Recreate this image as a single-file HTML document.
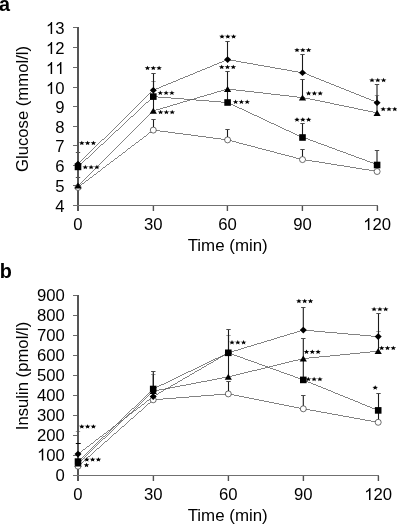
<!DOCTYPE html>
<html><head><meta charset="utf-8"><style>
html,body{margin:0;padding:0;background:#fff;width:397px;height:525px;overflow:hidden}
svg{display:block;will-change:transform}
.t{font-family:"Liberation Sans",sans-serif;font-size:16.7px;fill:#000}
.p{font-family:"Liberation Sans",sans-serif;font-size:19.8px;font-weight:bold;fill:#000}
</style></head><body>
<svg width="397" height="525" viewBox="0 0 397 525">
<rect width="397" height="525" fill="#fff"/>
<text x="-1" y="10.7" class="p">a</text>
<text x="-0.3" y="277.8" class="p">b</text>
<line x1="153.5" y1="130.1" x2="153.5" y2="119.3" stroke="#1a1a1a" stroke-width="1.1"/>
<line x1="151.3" y1="119.5" x2="155.7" y2="119.5" stroke="#4a4a4a" stroke-width="1"/>
<line x1="227.5" y1="139.9" x2="227.5" y2="129.7" stroke="#1a1a1a" stroke-width="1.1"/>
<line x1="225.3" y1="129.5" x2="229.7" y2="129.5" stroke="#4a4a4a" stroke-width="1"/>
<line x1="302.5" y1="159.6" x2="302.5" y2="149.5" stroke="#1a1a1a" stroke-width="1.1"/>
<line x1="300.3" y1="149.5" x2="304.7" y2="149.5" stroke="#4a4a4a" stroke-width="1"/>
<line x1="75.8" y1="177.5" x2="80.2" y2="177.5" stroke="#4a4a4a" stroke-width="1"/>
<line x1="153.5" y1="110.9" x2="153.5" y2="81.5" stroke="#1a1a1a" stroke-width="1.1"/>
<line x1="151.3" y1="81.5" x2="155.7" y2="81.5" stroke="#9a9a9a" stroke-width="1"/>
<line x1="227.5" y1="89.0" x2="227.5" y2="71.9" stroke="#1a1a1a" stroke-width="1.1"/>
<line x1="225.3" y1="71.5" x2="229.7" y2="71.5" stroke="#4a4a4a" stroke-width="1"/>
<line x1="302.5" y1="97.6" x2="302.5" y2="79.5" stroke="#1a1a1a" stroke-width="1.1"/>
<line x1="300.3" y1="79.5" x2="304.7" y2="79.5" stroke="#4a4a4a" stroke-width="1"/>
<line x1="377.0" y1="113.1" x2="377.0" y2="95.4" stroke="#1a1a1a" stroke-width="1.1"/>
<line x1="374.8" y1="95.5" x2="379.2" y2="95.5" stroke="#9a9a9a" stroke-width="1"/>
<line x1="227.5" y1="102.5" x2="227.5" y2="89.0" stroke="#1a1a1a" stroke-width="1.1"/>
<line x1="302.5" y1="137.5" x2="302.5" y2="123.0" stroke="#1a1a1a" stroke-width="1.1"/>
<line x1="300.3" y1="123.5" x2="304.7" y2="123.5" stroke="#4a4a4a" stroke-width="1"/>
<line x1="377.0" y1="165.0" x2="377.0" y2="150.3" stroke="#1a1a1a" stroke-width="1.1"/>
<line x1="374.8" y1="150.5" x2="379.2" y2="150.5" stroke="#4a4a4a" stroke-width="1"/>
<line x1="75.8" y1="152.5" x2="80.2" y2="152.5" stroke="#4a4a4a" stroke-width="1"/>
<line x1="153.5" y1="90.2" x2="153.5" y2="73.4" stroke="#1a1a1a" stroke-width="1.1"/>
<line x1="151.3" y1="73.5" x2="155.7" y2="73.5" stroke="#4a4a4a" stroke-width="1"/>
<line x1="227.5" y1="59.6" x2="227.5" y2="41.5" stroke="#1a1a1a" stroke-width="1.1"/>
<line x1="225.3" y1="41.5" x2="229.7" y2="41.5" stroke="#4a4a4a" stroke-width="1"/>
<line x1="302.5" y1="72.8" x2="302.5" y2="54.5" stroke="#1a1a1a" stroke-width="1.1"/>
<line x1="300.3" y1="54.5" x2="304.7" y2="54.5" stroke="#4a4a4a" stroke-width="1"/>
<line x1="377.0" y1="102.7" x2="377.0" y2="84.4" stroke="#1a1a1a" stroke-width="1.1"/>
<line x1="374.8" y1="84.5" x2="379.2" y2="84.5" stroke="#4a4a4a" stroke-width="1"/>
<rect x="77" y="27" width="2" height="184" fill="#555"/>
<rect x="73" y="27" width="4" height="1" fill="#6a6a6a"/>
<rect x="73" y="47" width="4" height="1" fill="#6a6a6a"/>
<rect x="73" y="67" width="4" height="1" fill="#6a6a6a"/>
<rect x="73" y="87" width="4" height="1" fill="#6a6a6a"/>
<rect x="73" y="106" width="4" height="1" fill="#6a6a6a"/>
<rect x="73" y="126" width="4" height="1" fill="#6a6a6a"/>
<rect x="73" y="145" width="4" height="1" fill="#6a6a6a"/>
<rect x="73" y="165" width="4" height="1" fill="#6a6a6a"/>
<rect x="73" y="185" width="4" height="1" fill="#6a6a6a"/>
<rect x="73" y="205" width="4" height="1" fill="#6a6a6a"/>
<rect x="73" y="205" width="305" height="1" fill="#707070"/>
<rect x="152.7" y="206" width="1.4" height="5" fill="#505050"/>
<rect x="226.7" y="206" width="1.4" height="5" fill="#505050"/>
<rect x="301.7" y="206" width="1.4" height="5" fill="#505050"/>
<rect x="376.7" y="206" width="1.4" height="5" fill="#505050"/>
<path transform="translate(45.92 34.05) scale(0.008154 -0.008154)" d="M763 0H583V1147Q518 1085 412 1023Q306 961 223 930V1104Q374 1175 487 1276Q600 1377 647 1472H763Z"/><text x="55.21" y="34.05" class="t">3</text>
<path transform="translate(45.92 54.05) scale(0.008154 -0.008154)" d="M763 0H583V1147Q518 1085 412 1023Q306 961 223 930V1104Q374 1175 487 1276Q600 1377 647 1472H763Z"/><text x="55.21" y="54.05" class="t">2</text>
<path transform="translate(45.92 74.05) scale(0.008154 -0.008154)" d="M763 0H583V1147Q518 1085 412 1023Q306 961 223 930V1104Q374 1175 487 1276Q600 1377 647 1472H763Z"/><path transform="translate(55.21 74.05) scale(0.008154 -0.008154)" d="M763 0H583V1147Q518 1085 412 1023Q306 961 223 930V1104Q374 1175 487 1276Q600 1377 647 1472H763Z"/>
<path transform="translate(45.92 94.05) scale(0.008154 -0.008154)" d="M763 0H583V1147Q518 1085 412 1023Q306 961 223 930V1104Q374 1175 487 1276Q600 1377 647 1472H763Z"/><text x="55.21" y="94.05" class="t">0</text>
<text x="55.21" y="113.05" class="t">9</text>
<text x="55.21" y="133.05" class="t">8</text>
<text x="55.21" y="152.05" class="t">7</text>
<text x="55.21" y="172.05" class="t">6</text>
<text x="55.21" y="192.05" class="t">5</text>
<text x="55.21" y="212.05" class="t">4</text>
<text x="73.36" y="230.10" class="t">0</text>
<text x="144.01" y="230.10" class="t">3</text><text x="153.30" y="230.10" class="t">0</text>
<text x="218.31" y="230.10" class="t">6</text><text x="227.60" y="230.10" class="t">0</text>
<text x="293.21" y="230.10" class="t">9</text><text x="302.50" y="230.10" class="t">0</text>
<path transform="translate(363.17 230.10) scale(0.008154 -0.008154)" d="M763 0H583V1147Q518 1085 412 1023Q306 961 223 930V1104Q374 1175 487 1276Q600 1377 647 1472H763Z"/><text x="372.46" y="230.10" class="t">2</text><text x="381.74" y="230.10" class="t">0</text>
<text x="227.7" y="251.3" text-anchor="middle" class="t" style="font-size:16.9px">Time (min)</text>
<text transform="translate(27.5 109) rotate(-90)" text-anchor="middle" class="t">Glucose (mmol/l)</text>
<polyline points="78,187.4 153.3,130.1 227.6,139.9 302.5,159.6 377.1,171.5" fill="none" stroke="#5a5a5a" stroke-width="0.75" shape-rendering="crispEdges"/>
<polyline points="78,185.7 153.3,110.9 227.6,89.0 302.5,97.6 377.1,113.1" fill="none" stroke="#5a5a5a" stroke-width="0.75" shape-rendering="crispEdges"/>
<polyline points="78,166.9 153.3,96.6 227.6,102.5 302.5,137.5 377.1,165.0" fill="none" stroke="#5a5a5a" stroke-width="0.75" shape-rendering="crispEdges"/>
<polyline points="78,164.0 153.3,90.2 227.6,59.6 302.5,72.8 377.1,102.7" fill="none" stroke="#5a5a5a" stroke-width="0.75" shape-rendering="crispEdges"/>
<circle cx="78" cy="187.4" r="3.0" fill="#fff" stroke="#222" stroke-width="0.65"/>
<circle cx="153.3" cy="130.1" r="3.0" fill="#fff" stroke="#222" stroke-width="0.65"/>
<circle cx="227.6" cy="139.9" r="3.0" fill="#fff" stroke="#222" stroke-width="0.65"/>
<circle cx="302.5" cy="159.6" r="3.0" fill="#fff" stroke="#222" stroke-width="0.65"/>
<circle cx="377.1" cy="171.5" r="3.0" fill="#fff" stroke="#222" stroke-width="0.65"/>
<polygon points="78,182.6 81.6,188.6 74.4,188.6" fill="#000"/>
<polygon points="153.3,107.80000000000001 156.9,113.80000000000001 149.70000000000002,113.80000000000001" fill="#000"/>
<polygon points="227.6,85.9 231.2,91.9 224.0,91.9" fill="#000"/>
<polygon points="302.5,94.5 306.1,100.5 298.9,100.5" fill="#000"/>
<polygon points="377.1,110.0 380.70000000000005,116.0 373.5,116.0" fill="#000"/>
<rect x="74.7" y="163.6" width="6.6" height="6.6" fill="#000"/>
<rect x="150.0" y="93.3" width="6.6" height="6.6" fill="#000"/>
<rect x="224.29999999999998" y="99.2" width="6.6" height="6.6" fill="#000"/>
<rect x="299.2" y="134.2" width="6.6" height="6.6" fill="#000"/>
<rect x="373.8" y="161.7" width="6.6" height="6.6" fill="#000"/>
<polygon points="78,160.7 81.5,164.0 78,167.3 74.5,164.0" fill="#000"/>
<polygon points="153.3,86.9 156.8,90.2 153.3,93.5 149.8,90.2" fill="#000"/>
<polygon points="227.6,56.300000000000004 231.1,59.6 227.6,62.9 224.1,59.6" fill="#000"/>
<polygon points="302.5,69.5 306.0,72.8 302.5,76.1 299.0,72.8" fill="#000"/>
<polygon points="377.1,99.4 380.6,102.7 377.1,106.0 373.6,102.7" fill="#000"/>

<g fill="#000">
<polygon points="81.80,140.65 82.55,142.24 84.61,142.34 83.02,143.43 83.53,145.08 81.80,144.16 80.07,145.08 80.58,143.43 78.99,142.34 81.05,142.24"/>
<polygon points="87.60,140.65 88.35,142.24 90.41,142.34 88.82,143.43 89.33,145.08 87.60,144.16 85.87,145.08 86.38,143.43 84.79,142.34 86.85,142.24"/>
<polygon points="93.40,140.65 94.15,142.24 96.21,142.34 94.62,143.43 95.13,145.08 93.40,144.16 91.67,145.08 92.18,143.43 90.59,142.34 92.65,142.24"/>
<polygon points="85.30,164.85 86.05,166.44 88.11,166.54 86.52,167.63 87.03,169.28 85.30,168.36 83.57,169.28 84.08,167.63 82.49,166.54 84.55,166.44"/>
<polygon points="91.10,164.85 91.85,166.44 93.91,166.54 92.32,167.63 92.83,169.28 91.10,168.36 89.37,169.28 89.88,167.63 88.29,166.54 90.35,166.44"/>
<polygon points="96.90,164.85 97.65,166.44 99.71,166.54 98.12,167.63 98.63,169.28 96.90,168.36 95.17,169.28 95.68,167.63 94.09,166.54 96.15,166.44"/>
<polygon points="147.50,65.65 148.25,67.24 150.31,67.34 148.72,68.43 149.23,70.08 147.50,69.16 145.77,70.08 146.28,68.43 144.69,67.34 146.75,67.24"/>
<polygon points="153.30,65.65 154.05,67.24 156.11,67.34 154.52,68.43 155.03,70.08 153.30,69.16 151.57,70.08 152.08,68.43 150.49,67.34 152.55,67.24"/>
<polygon points="159.10,65.65 159.85,67.24 161.91,67.34 160.32,68.43 160.83,70.08 159.10,69.16 157.37,70.08 157.88,68.43 156.29,67.34 158.35,67.24"/>
<polygon points="160.30,90.55 161.05,92.14 163.11,92.24 161.52,93.33 162.03,94.98 160.30,94.06 158.57,94.98 159.08,93.33 157.49,92.24 159.55,92.14"/>
<polygon points="166.10,90.55 166.85,92.14 168.91,92.24 167.32,93.33 167.83,94.98 166.10,94.06 164.37,94.98 164.88,93.33 163.29,92.24 165.35,92.14"/>
<polygon points="171.90,90.55 172.65,92.14 174.71,92.24 173.12,93.33 173.63,94.98 171.90,94.06 170.17,94.98 170.68,93.33 169.09,92.24 171.15,92.14"/>
<polygon points="160.60,109.85 161.35,111.44 163.41,111.54 161.82,112.63 162.33,114.28 160.60,113.36 158.87,114.28 159.38,112.63 157.79,111.54 159.85,111.44"/>
<polygon points="166.40,109.85 167.15,111.44 169.21,111.54 167.62,112.63 168.13,114.28 166.40,113.36 164.67,114.28 165.18,112.63 163.59,111.54 165.65,111.44"/>
<polygon points="172.20,109.85 172.95,111.44 175.01,111.54 173.42,112.63 173.93,114.28 172.20,113.36 170.47,114.28 170.98,112.63 169.39,111.54 171.45,111.44"/>
<polygon points="222.00,34.15 222.75,35.74 224.81,35.84 223.22,36.93 223.73,38.58 222.00,37.66 220.27,38.58 220.78,36.93 219.19,35.84 221.25,35.74"/>
<polygon points="227.80,34.15 228.55,35.74 230.61,35.84 229.02,36.93 229.53,38.58 227.80,37.66 226.07,38.58 226.58,36.93 224.99,35.84 227.05,35.74"/>
<polygon points="233.60,34.15 234.35,35.74 236.41,35.84 234.82,36.93 235.33,38.58 233.60,37.66 231.87,38.58 232.38,36.93 230.79,35.84 232.85,35.74"/>
<polygon points="221.70,64.65 222.45,66.24 224.51,66.34 222.92,67.43 223.43,69.08 221.70,68.16 219.97,69.08 220.48,67.43 218.89,66.34 220.95,66.24"/>
<polygon points="227.50,64.65 228.25,66.24 230.31,66.34 228.72,67.43 229.23,69.08 227.50,68.16 225.77,69.08 226.28,67.43 224.69,66.34 226.75,66.24"/>
<polygon points="233.30,64.65 234.05,66.24 236.11,66.34 234.52,67.43 235.03,69.08 233.30,68.16 231.57,69.08 232.08,67.43 230.49,66.34 232.55,66.24"/>
<polygon points="235.60,99.55 236.35,101.14 238.41,101.24 236.82,102.33 237.33,103.98 235.60,103.06 233.87,103.98 234.38,102.33 232.79,101.24 234.85,101.14"/>
<polygon points="241.40,99.55 242.15,101.14 244.21,101.24 242.62,102.33 243.13,103.98 241.40,103.06 239.67,103.98 240.18,102.33 238.59,101.24 240.65,101.14"/>
<polygon points="247.20,99.55 247.95,101.14 250.01,101.24 248.42,102.33 248.93,103.98 247.20,103.06 245.47,103.98 245.98,102.33 244.39,101.24 246.45,101.14"/>
<polygon points="297.00,47.65 297.75,49.24 299.81,49.34 298.22,50.43 298.73,52.08 297.00,51.16 295.27,52.08 295.78,50.43 294.19,49.34 296.25,49.24"/>
<polygon points="302.80,47.65 303.55,49.24 305.61,49.34 304.02,50.43 304.53,52.08 302.80,51.16 301.07,52.08 301.58,50.43 299.99,49.34 302.05,49.24"/>
<polygon points="308.60,47.65 309.35,49.24 311.41,49.34 309.82,50.43 310.33,52.08 308.60,51.16 306.87,52.08 307.38,50.43 305.79,49.34 307.85,49.24"/>
<polygon points="308.60,90.95 309.35,92.54 311.41,92.64 309.82,93.73 310.33,95.38 308.60,94.46 306.87,95.38 307.38,93.73 305.79,92.64 307.85,92.54"/>
<polygon points="314.40,90.95 315.15,92.54 317.21,92.64 315.62,93.73 316.13,95.38 314.40,94.46 312.67,95.38 313.18,93.73 311.59,92.64 313.65,92.54"/>
<polygon points="320.20,90.95 320.95,92.54 323.01,92.64 321.42,93.73 321.93,95.38 320.20,94.46 318.47,95.38 318.98,93.73 317.39,92.64 319.45,92.54"/>
<polygon points="297.00,117.25 297.75,118.84 299.81,118.94 298.22,120.03 298.73,121.68 297.00,120.76 295.27,121.68 295.78,120.03 294.19,118.94 296.25,118.84"/>
<polygon points="302.80,117.25 303.55,118.84 305.61,118.94 304.02,120.03 304.53,121.68 302.80,120.76 301.07,121.68 301.58,120.03 299.99,118.94 302.05,118.84"/>
<polygon points="308.60,117.25 309.35,118.84 311.41,118.94 309.82,120.03 310.33,121.68 308.60,120.76 306.87,121.68 307.38,120.03 305.79,118.94 307.85,118.84"/>
<polygon points="372.00,77.85 372.75,79.44 374.81,79.54 373.22,80.63 373.73,82.28 372.00,81.36 370.27,82.28 370.78,80.63 369.19,79.54 371.25,79.44"/>
<polygon points="377.80,77.85 378.55,79.44 380.61,79.54 379.02,80.63 379.53,82.28 377.80,81.36 376.07,82.28 376.58,80.63 374.99,79.54 377.05,79.44"/>
<polygon points="383.60,77.85 384.35,79.44 386.41,79.54 384.82,80.63 385.33,82.28 383.60,81.36 381.87,82.28 382.38,80.63 380.79,79.54 382.85,79.44"/>
<polygon points="383.20,106.75 383.95,108.34 386.01,108.44 384.42,109.53 384.93,111.18 383.20,110.26 381.47,111.18 381.98,109.53 380.39,108.44 382.45,108.34"/>
<polygon points="389.00,106.75 389.75,108.34 391.81,108.44 390.22,109.53 390.73,111.18 389.00,110.26 387.27,111.18 387.78,109.53 386.19,108.44 388.25,108.34"/>
<polygon points="394.80,106.75 395.55,108.34 397.61,108.44 396.02,109.53 396.53,111.18 394.80,110.26 393.07,111.18 393.58,109.53 391.99,108.44 394.05,108.34"/>
</g>
<line x1="228.5" y1="393.9" x2="228.5" y2="381.7" stroke="#1a1a1a" stroke-width="1.1"/>
<line x1="226.3" y1="381.5" x2="230.7" y2="381.5" stroke="#4a4a4a" stroke-width="1"/>
<line x1="303.3" y1="408.8" x2="303.3" y2="395.5" stroke="#1a1a1a" stroke-width="1.1"/>
<line x1="301.1" y1="395.5" x2="305.5" y2="395.5" stroke="#4a4a4a" stroke-width="1"/>
<line x1="378.5" y1="422.3" x2="378.5" y2="409.0" stroke="#1a1a1a" stroke-width="1.1"/>
<line x1="75.8" y1="431.5" x2="80.2" y2="431.5" stroke="#9a9a9a" stroke-width="1"/>
<line x1="228.5" y1="376.9" x2="228.5" y2="352.0" stroke="#1a1a1a" stroke-width="1.1"/>
<line x1="303.3" y1="358.6" x2="303.3" y2="338.2" stroke="#1a1a1a" stroke-width="1.1"/>
<line x1="301.1" y1="338.5" x2="305.5" y2="338.5" stroke="#4a4a4a" stroke-width="1"/>
<line x1="378.5" y1="351.2" x2="378.5" y2="331.2" stroke="#1a1a1a" stroke-width="1.1"/>
<line x1="376.3" y1="331.5" x2="380.7" y2="331.5" stroke="#9a9a9a" stroke-width="1"/>
<line x1="153.3" y1="389.0" x2="153.3" y2="374.1" stroke="#1a1a1a" stroke-width="1.1"/>
<line x1="151.10000000000002" y1="374.5" x2="155.5" y2="374.5" stroke="#9a9a9a" stroke-width="1"/>
<line x1="228.5" y1="352.8" x2="228.5" y2="335.0" stroke="#1a1a1a" stroke-width="1.1"/>
<line x1="226.3" y1="335.5" x2="230.7" y2="335.5" stroke="#9a9a9a" stroke-width="1"/>
<line x1="303.3" y1="379.9" x2="303.3" y2="357.0" stroke="#1a1a1a" stroke-width="1.1"/>
<line x1="378.5" y1="410.4" x2="378.5" y2="393.2" stroke="#1a1a1a" stroke-width="1.1"/>
<line x1="376.3" y1="393.5" x2="380.7" y2="393.5" stroke="#4a4a4a" stroke-width="1"/>
<line x1="153.3" y1="396.6" x2="153.3" y2="371.5" stroke="#1a1a1a" stroke-width="1.1"/>
<line x1="151.10000000000002" y1="371.5" x2="155.5" y2="371.5" stroke="#4a4a4a" stroke-width="1"/>
<line x1="228.5" y1="352.8" x2="228.5" y2="329.8" stroke="#1a1a1a" stroke-width="1.1"/>
<line x1="226.3" y1="329.5" x2="230.7" y2="329.5" stroke="#4a4a4a" stroke-width="1"/>
<line x1="303.3" y1="330.1" x2="303.3" y2="307.2" stroke="#1a1a1a" stroke-width="1.1"/>
<line x1="301.1" y1="307.5" x2="305.5" y2="307.5" stroke="#4a4a4a" stroke-width="1"/>
<line x1="378.5" y1="336.6" x2="378.5" y2="313.4" stroke="#1a1a1a" stroke-width="1.1"/>
<line x1="376.3" y1="313.5" x2="380.7" y2="313.5" stroke="#4a4a4a" stroke-width="1"/>
<rect x="77" y="295" width="2" height="186" fill="#555"/>
<rect x="73" y="295" width="4" height="1" fill="#6a6a6a"/>
<rect x="73" y="315" width="4" height="1" fill="#6a6a6a"/>
<rect x="73" y="335" width="4" height="1" fill="#6a6a6a"/>
<rect x="73" y="355" width="4" height="1" fill="#6a6a6a"/>
<rect x="73" y="375" width="4" height="1" fill="#6a6a6a"/>
<rect x="73" y="395" width="4" height="1" fill="#6a6a6a"/>
<rect x="73" y="415" width="4" height="1" fill="#6a6a6a"/>
<rect x="73" y="435" width="4" height="1" fill="#6a6a6a"/>
<rect x="73" y="455" width="4" height="1" fill="#6a6a6a"/>
<rect x="73" y="475" width="4" height="1" fill="#6a6a6a"/>
<rect x="73" y="475" width="306" height="1" fill="#707070"/>
<rect x="152.7" y="476" width="1.4" height="5" fill="#505050"/>
<rect x="227.7" y="476" width="1.4" height="5" fill="#505050"/>
<rect x="302.7" y="476" width="1.4" height="5" fill="#505050"/>
<rect x="377.7" y="476" width="1.4" height="5" fill="#505050"/>
<text x="37.04" y="300.55" class="t">9</text><text x="46.32" y="300.55" class="t">0</text><text x="55.61" y="300.55" class="t">0</text>
<text x="37.04" y="320.55" class="t">8</text><text x="46.32" y="320.55" class="t">0</text><text x="55.61" y="320.55" class="t">0</text>
<text x="37.04" y="340.55" class="t">7</text><text x="46.32" y="340.55" class="t">0</text><text x="55.61" y="340.55" class="t">0</text>
<text x="37.04" y="360.55" class="t">6</text><text x="46.32" y="360.55" class="t">0</text><text x="55.61" y="360.55" class="t">0</text>
<text x="37.04" y="380.55" class="t">5</text><text x="46.32" y="380.55" class="t">0</text><text x="55.61" y="380.55" class="t">0</text>
<text x="37.04" y="400.55" class="t">4</text><text x="46.32" y="400.55" class="t">0</text><text x="55.61" y="400.55" class="t">0</text>
<text x="37.04" y="420.55" class="t">3</text><text x="46.32" y="420.55" class="t">0</text><text x="55.61" y="420.55" class="t">0</text>
<text x="37.04" y="440.55" class="t">2</text><text x="46.32" y="440.55" class="t">0</text><text x="55.61" y="440.55" class="t">0</text>
<path transform="translate(37.04 460.55) scale(0.008154 -0.008154)" d="M763 0H583V1147Q518 1085 412 1023Q306 961 223 930V1104Q374 1175 487 1276Q600 1377 647 1472H763Z"/><text x="46.32" y="460.55" class="t">0</text><text x="55.61" y="460.55" class="t">0</text>
<text x="55.61" y="480.55" class="t">0</text>
<text x="73.36" y="500.10" class="t">0</text>
<text x="143.91" y="500.10" class="t">3</text><text x="153.20" y="500.10" class="t">0</text>
<text x="219.01" y="500.10" class="t">6</text><text x="228.30" y="500.10" class="t">0</text>
<text x="294.01" y="500.10" class="t">9</text><text x="303.30" y="500.10" class="t">0</text>
<path transform="translate(364.27 500.10) scale(0.008154 -0.008154)" d="M763 0H583V1147Q518 1085 412 1023Q306 961 223 930V1104Q374 1175 487 1276Q600 1377 647 1472H763Z"/><text x="373.56" y="500.10" class="t">2</text><text x="382.84" y="500.10" class="t">0</text>
<text x="227.7" y="521.3" text-anchor="middle" class="t" style="font-size:16.9px">Time (min)</text>
<text transform="translate(27.5 376) rotate(-90)" text-anchor="middle" class="t">Insulin (pmol/l)</text>
<polyline points="78,466.2 153.2,399.8 228.3,393.9 303.3,408.8 378.2,422.3" fill="none" stroke="#5a5a5a" stroke-width="0.75" shape-rendering="crispEdges"/>
<polyline points="78,463.5 153.2,391.2 228.3,376.9 303.3,358.6 378.2,351.2" fill="none" stroke="#5a5a5a" stroke-width="0.75" shape-rendering="crispEdges"/>
<polyline points="78,461.6 153.2,389.0 228.3,352.8 303.3,379.9 378.2,410.4" fill="none" stroke="#5a5a5a" stroke-width="0.75" shape-rendering="crispEdges"/>
<polyline points="78,454.1 153.2,396.6 228.3,352.8 303.3,330.1 378.2,336.6" fill="none" stroke="#5a5a5a" stroke-width="0.75" shape-rendering="crispEdges"/>
<circle cx="78" cy="466.2" r="3.0" fill="#fff" stroke="#222" stroke-width="0.65"/>
<circle cx="153.2" cy="399.8" r="3.0" fill="#fff" stroke="#222" stroke-width="0.65"/>
<circle cx="228.3" cy="393.9" r="3.0" fill="#fff" stroke="#222" stroke-width="0.65"/>
<circle cx="303.3" cy="408.8" r="3.0" fill="#fff" stroke="#222" stroke-width="0.65"/>
<circle cx="378.2" cy="422.3" r="3.0" fill="#fff" stroke="#222" stroke-width="0.65"/>
<polygon points="78,460.4 81.6,466.4 74.4,466.4" fill="#000"/>
<polygon points="153.2,388.09999999999997 156.79999999999998,394.09999999999997 149.6,394.09999999999997" fill="#000"/>
<polygon points="228.3,373.79999999999995 231.9,379.79999999999995 224.70000000000002,379.79999999999995" fill="#000"/>
<polygon points="303.3,355.5 306.90000000000003,361.5 299.7,361.5" fill="#000"/>
<polygon points="378.2,348.09999999999997 381.8,354.09999999999997 374.59999999999997,354.09999999999997" fill="#000"/>
<rect x="74.7" y="458.3" width="6.6" height="6.6" fill="#000"/>
<rect x="149.89999999999998" y="385.7" width="6.6" height="6.6" fill="#000"/>
<rect x="225.0" y="349.5" width="6.6" height="6.6" fill="#000"/>
<rect x="300.0" y="376.59999999999997" width="6.6" height="6.6" fill="#000"/>
<rect x="374.9" y="407.09999999999997" width="6.6" height="6.6" fill="#000"/>
<polygon points="78,450.8 81.5,454.1 78,457.40000000000003 74.5,454.1" fill="#000"/>
<polygon points="153.2,393.3 156.7,396.6 153.2,399.90000000000003 149.7,396.6" fill="#000"/>
<polygon points="228.3,349.5 231.8,352.8 228.3,356.1 224.8,352.8" fill="#000"/>
<polygon points="303.3,326.8 306.8,330.1 303.3,333.40000000000003 299.8,330.1" fill="#000"/>
<polygon points="378.2,333.3 381.7,336.6 378.2,339.90000000000003 374.7,336.6" fill="#000"/>
<rect x="75.8" y="443" width="4.9" height="1" fill="#000"/>
<g fill="#000">
<polygon points="81.80,424.15 82.55,425.74 84.61,425.84 83.02,426.93 83.53,428.58 81.80,427.66 80.07,428.58 80.58,426.93 78.99,425.84 81.05,425.74"/>
<polygon points="87.60,424.15 88.35,425.74 90.41,425.84 88.82,426.93 89.33,428.58 87.60,427.66 85.87,428.58 86.38,426.93 84.79,425.84 86.85,425.74"/>
<polygon points="93.40,424.15 94.15,425.74 96.21,425.84 94.62,426.93 95.13,428.58 93.40,427.66 91.67,428.58 92.18,426.93 90.59,425.84 92.65,425.74"/>
<polygon points="86.80,457.15 87.55,458.74 89.61,458.84 88.02,459.93 88.53,461.58 86.80,460.66 85.07,461.58 85.58,459.93 83.99,458.84 86.05,458.74"/>
<polygon points="92.60,457.15 93.35,458.74 95.41,458.84 93.82,459.93 94.33,461.58 92.60,460.66 90.87,461.58 91.38,459.93 89.79,458.84 91.85,458.74"/>
<polygon points="98.40,457.15 99.15,458.74 101.21,458.84 99.62,459.93 100.13,461.58 98.40,460.66 96.67,461.58 97.18,459.93 95.59,458.84 97.65,458.74"/>
<polygon points="86.50,462.75 87.25,464.34 89.31,464.44 87.72,465.53 88.23,467.18 86.50,466.26 84.77,467.18 85.28,465.53 83.69,464.44 85.75,464.34"/>
<polygon points="232.00,340.05 232.75,341.64 234.81,341.74 233.22,342.83 233.73,344.48 232.00,343.56 230.27,344.48 230.78,342.83 229.19,341.74 231.25,341.64"/>
<polygon points="237.80,340.05 238.55,341.64 240.61,341.74 239.02,342.83 239.53,344.48 237.80,343.56 236.07,344.48 236.58,342.83 234.99,341.74 237.05,341.64"/>
<polygon points="243.60,340.05 244.35,341.64 246.41,341.74 244.82,342.83 245.33,344.48 243.60,343.56 241.87,344.48 242.38,342.83 240.79,341.74 242.85,341.64"/>
<polygon points="298.90,298.75 299.65,300.34 301.71,300.44 300.12,301.53 300.63,303.18 298.90,302.26 297.17,303.18 297.68,301.53 296.09,300.44 298.15,300.34"/>
<polygon points="304.70,298.75 305.45,300.34 307.51,300.44 305.92,301.53 306.43,303.18 304.70,302.26 302.97,303.18 303.48,301.53 301.89,300.44 303.95,300.34"/>
<polygon points="310.50,298.75 311.25,300.34 313.31,300.44 311.72,301.53 312.23,303.18 310.50,302.26 308.77,303.18 309.28,301.53 307.69,300.44 309.75,300.34"/>
<polygon points="306.50,349.45 307.25,351.04 309.31,351.14 307.72,352.23 308.23,353.88 306.50,352.96 304.77,353.88 305.28,352.23 303.69,351.14 305.75,351.04"/>
<polygon points="312.30,349.45 313.05,351.04 315.11,351.14 313.52,352.23 314.03,353.88 312.30,352.96 310.57,353.88 311.08,352.23 309.49,351.14 311.55,351.04"/>
<polygon points="318.10,349.45 318.85,351.04 320.91,351.14 319.32,352.23 319.83,353.88 318.10,352.96 316.37,353.88 316.88,352.23 315.29,351.14 317.35,351.04"/>
<polygon points="308.30,376.85 309.05,378.44 311.11,378.54 309.52,379.63 310.03,381.28 308.30,380.36 306.57,381.28 307.08,379.63 305.49,378.54 307.55,378.44"/>
<polygon points="314.10,376.85 314.85,378.44 316.91,378.54 315.32,379.63 315.83,381.28 314.10,380.36 312.37,381.28 312.88,379.63 311.29,378.54 313.35,378.44"/>
<polygon points="319.90,376.85 320.65,378.44 322.71,378.54 321.12,379.63 321.63,381.28 319.90,380.36 318.17,381.28 318.68,379.63 317.09,378.54 319.15,378.44"/>
<polygon points="374.10,306.85 374.85,308.44 376.91,308.54 375.32,309.63 375.83,311.28 374.10,310.36 372.37,311.28 372.88,309.63 371.29,308.54 373.35,308.44"/>
<polygon points="379.90,306.85 380.65,308.44 382.71,308.54 381.12,309.63 381.63,311.28 379.90,310.36 378.17,311.28 378.68,309.63 377.09,308.54 379.15,308.44"/>
<polygon points="385.70,306.85 386.45,308.44 388.51,308.54 386.92,309.63 387.43,311.28 385.70,310.36 383.97,311.28 384.48,309.63 382.89,308.54 384.95,308.44"/>
<polygon points="381.70,345.65 382.45,347.24 384.51,347.34 382.92,348.43 383.43,350.08 381.70,349.16 379.97,350.08 380.48,348.43 378.89,347.34 380.95,347.24"/>
<polygon points="387.50,345.65 388.25,347.24 390.31,347.34 388.72,348.43 389.23,350.08 387.50,349.16 385.77,350.08 386.28,348.43 384.69,347.34 386.75,347.24"/>
<polygon points="393.30,345.65 394.05,347.24 396.11,347.34 394.52,348.43 395.03,350.08 393.30,349.16 391.57,350.08 392.08,348.43 390.49,347.34 392.55,347.24"/>
<polygon points="375.20,385.25 375.95,386.84 378.01,386.94 376.42,388.03 376.93,389.68 375.20,388.76 373.47,389.68 373.98,388.03 372.39,386.94 374.45,386.84"/>
</g>
</svg>
</body></html>
